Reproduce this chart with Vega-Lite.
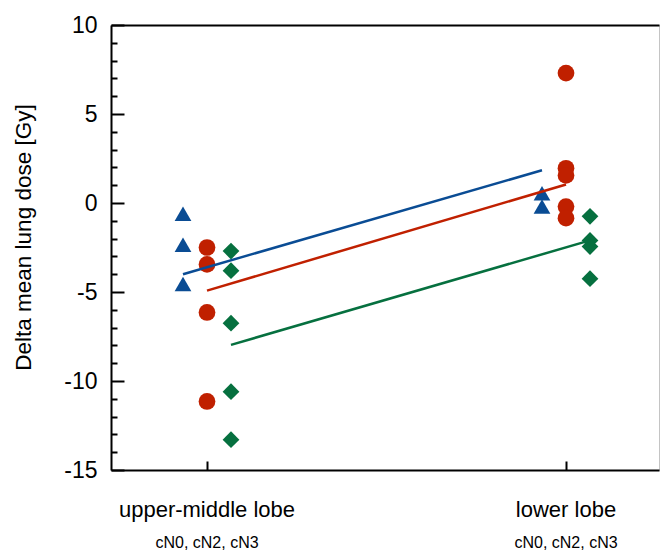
{
  "$schema": "https://vega.github.io/schema/vega-lite/v6.json",
  "width": 548,
  "height": 445,
  "autosize": {"type": "none"},
  "padding": {"left": 111, "top": 25, "right": 2, "bottom": 82},
  "background": "white",
  "config": {
    "view": {"stroke": "#c4c4c4", "strokeWidth": 1},
    "font": "Liberation Sans",
    "axis": {"grid": false, "labelFont": "Liberation Sans", "titleFont": "Liberation Sans", "labelColor": "black", "titleColor": "black"}
  },
  "datasets": {
    "points": [
      {"lobe": "upper-middle lobe", "group": "cN0", "value": -0.6},
      {"lobe": "upper-middle lobe", "group": "cN0", "value": -2.35},
      {"lobe": "upper-middle lobe", "group": "cN0", "value": -4.55},
      {"lobe": "upper-middle lobe", "group": "cN2", "value": -2.5},
      {"lobe": "upper-middle lobe", "group": "cN2", "value": -3.45},
      {"lobe": "upper-middle lobe", "group": "cN2", "value": -6.15},
      {"lobe": "upper-middle lobe", "group": "cN2", "value": -11.15},
      {"lobe": "upper-middle lobe", "group": "cN3", "value": -2.7},
      {"lobe": "upper-middle lobe", "group": "cN3", "value": -3.8},
      {"lobe": "upper-middle lobe", "group": "cN3", "value": -6.75},
      {"lobe": "upper-middle lobe", "group": "cN3", "value": -10.6},
      {"lobe": "upper-middle lobe", "group": "cN3", "value": -13.3},
      {"lobe": "lower lobe", "group": "cN0", "value": 0.55},
      {"lobe": "lower lobe", "group": "cN0", "value": -0.2},
      {"lobe": "lower lobe", "group": "cN2", "value": 7.3},
      {"lobe": "lower lobe", "group": "cN2", "value": 1.95},
      {"lobe": "lower lobe", "group": "cN2", "value": 1.55},
      {"lobe": "lower lobe", "group": "cN2", "value": -0.2},
      {"lobe": "lower lobe", "group": "cN2", "value": -0.85},
      {"lobe": "lower lobe", "group": "cN3", "value": -0.75},
      {"lobe": "lower lobe", "group": "cN3", "value": -2.1},
      {"lobe": "lower lobe", "group": "cN3", "value": -2.45},
      {"lobe": "lower lobe", "group": "cN3", "value": -4.25}
    ],
    "fits": [
      {"lobe": "upper-middle lobe", "group": "cN0", "value": -4.0},
      {"lobe": "lower lobe", "group": "cN0", "value": 1.84},
      {"lobe": "upper-middle lobe", "group": "cN2", "value": -4.92},
      {"lobe": "lower lobe", "group": "cN2", "value": 1.04},
      {"lobe": "upper-middle lobe", "group": "cN3", "value": -7.97},
      {"lobe": "lower lobe", "group": "cN3", "value": -2.1}
    ]
  },
  "resolve": {"axis": {"x": "independent", "y": "independent"}},
  "layer": [
    {
      "data": {"name": "points"},
      "mark": {"type": "point", "filled": true, "opacity": 1, "size": 280},
      "encoding": {
        "x": {
          "field": "lobe", "type": "nominal", "sort": ["upper-middle lobe", "lower lobe"],
          "scale": {"type": "band", "paddingInner": 0.5, "paddingOuter": 0.01323, "align": 0.658},
          "axis": {"orient": "bottom", "title": null, "labelAngle": 0, "labelFontSize": 22, "domainColor": "black", "domainWidth": 2, "tickColor": "black", "tickWidth": 2, "tickSize": -9, "labelPadding": 38}
        },
        "xOffset": {
          "field": "group", "type": "nominal", "sort": ["cN0", "cN2", "cN3"],
          "scale": {"type": "band", "range": [53.75, 125.75], "paddingInner": 0, "paddingOuter": 0}
        },
        "y": {
          "field": "value", "type": "quantitative",
          "scale": {"domain": [-15, 10], "nice": false, "zero": false},
          "axis": {
            "orient": "left",
            "title": "Delta mean lung dose [Gy]",
            "values": [-15, -10, -5, 0, 5, 10],
            "labelExpr": "'' + datum.value",
            "tickSize": -13,
            "tickColor": "black", "tickWidth": 2, "domainColor": "black", "domainWidth": 2,
            "labelFontSize": 23, "labelPadding": 27,
            "titleFontSize": 22.5, "titleFontWeight": "normal", "titlePadding": 28, "titleY": 212
          }
        },
        "color": {"field": "group", "type": "nominal", "scale": {"domain": ["cN0", "cN2", "cN3"], "range": ["#0a4c94", "#c02000", "#06703f"]}, "legend": null},
        "shape": {"field": "group", "type": "nominal", "scale": {"domain": ["cN0", "cN2", "cN3"], "range": ["triangle-up", "circle", "diamond"]}, "legend": null}
      }
    },
    {
      "data": {"name": "fits"},
      "mark": {"type": "line", "strokeWidth": 2.5},
      "encoding": {
        "x": {
          "field": "lobe", "type": "nominal", "sort": ["upper-middle lobe", "lower lobe"],
          "scale": {"type": "band", "paddingInner": 0.5, "paddingOuter": 0.01323, "align": 0.658},
          "axis": {"orient": "bottom", "title": null, "labelAngle": 0, "domain": false, "ticks": false, "labelExpr": "'cN0, cN2, cN3'", "labelFontSize": 16, "labelPadding": 64}
        },
        "xOffset": {
          "field": "group", "type": "nominal", "sort": ["cN0", "cN2", "cN3"],
          "scale": {"type": "band", "range": [53.75, 125.75], "paddingInner": 0, "paddingOuter": 0}
        },
        "y": {"field": "value", "type": "quantitative", "scale": {"domain": [-15, 10], "nice": false, "zero": false}, "axis": null},
        "color": {"field": "group", "type": "nominal", "scale": {"domain": ["cN0", "cN2", "cN3"], "range": ["#0a4c94", "#c02000", "#06703f"]}, "legend": null},
        "detail": {"field": "group"}
      }
    },
    {
      "data": {"name": "fits"},
      "mark": {"type": "line", "strokeOpacity": 0},
      "encoding": {
        "x": {
          "field": "lobe", "type": "nominal", "sort": ["upper-middle lobe", "lower lobe"],
          "scale": {"type": "band", "paddingInner": 0.5, "paddingOuter": 0.01323, "align": 0.658},
          "axis": {"orient": "top", "title": null, "labels": false, "ticks": false, "domainColor": "black", "domainWidth": 2}
        },
        "y": {
          "field": "value", "type": "quantitative", "scale": {"domain": [-15, 10], "nice": false, "zero": false},
          "axis": {
            "orient": "left", "title": null, "labels": false, "domain": false,
            "values": [-14, -13, -12, -11, -9, -8, -7, -6, -4, -3, -2, -1, 1, 2, 3, 4, 6, 7, 8, 9],
            "tickSize": -6, "tickColor": "black", "tickWidth": 2
          }
        },
        "detail": {"field": "group"}
      }
    }
  ]
}
